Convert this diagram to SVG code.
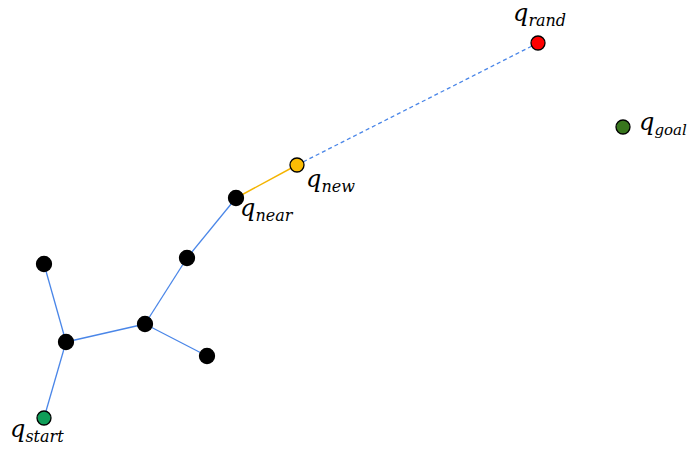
<svg xmlns="http://www.w3.org/2000/svg" width="689" height="450" viewBox="0 0 689 450">
<style>
.e{stroke:#4a86e8;stroke-width:1.3;fill:none}
.n{stroke:#000;stroke-width:1.3}
.q{font-family:"DejaVu Serif","Liberation Serif",serif;font-style:italic;font-size:24px;fill:#000}
.s{font-size:16px}
</style>
<rect width="689" height="450" fill="#fff"/>
<g id="connectors">
<line class="e" x1="44" y1="418" x2="66" y2="342"/>
<line class="e" x1="66" y1="342" x2="44" y2="264"/>
<line class="e" x1="66" y1="342" x2="145" y2="324"/>
<line class="e" x1="145" y1="324" x2="207" y2="356"/>
<line class="e" x1="145" y1="324" x2="187" y2="258"/>
<line class="e" x1="187" y1="258" x2="236" y2="198"/>
<line x1="236" y1="198" x2="297" y2="165" stroke="#f4b400" stroke-width="1.5"/>
<line class="e" x1="297" y1="165" x2="538" y2="43" stroke-dasharray="4,3"/>
</g>
<g id="n1"><circle class="n" cx="44" cy="264" r="7.5" fill="#000"/></g>
<g id="n2"><circle class="n" cx="66" cy="342" r="7.5" fill="#000"/></g>
<g id="n3"><circle class="n" cx="145" cy="324" r="7.5" fill="#000"/></g>
<g id="n4"><circle class="n" cx="207" cy="356" r="7.5" fill="#000"/></g>
<g id="n5"><circle class="n" cx="187" cy="258" r="7.5" fill="#000"/></g>
<g id="qnear"><circle class="n" cx="236" cy="198" r="7.5" fill="#000"/>
<text class="q" x="240" y="216">q<tspan class="s" dy="5">near</tspan></text></g>
<g id="qnew"><circle class="n" cx="297" cy="165" r="7" fill="#fbbc05"/>
<text class="q" x="306" y="187">q<tspan class="s" dy="5">new</tspan></text></g>
<g id="qrand"><circle class="n" cx="538" cy="43" r="7" fill="#ff0000"/>
<text class="q" x="513" y="21">q<tspan class="s" dy="5">rand</tspan></text></g>
<g id="qgoal"><circle class="n" cx="623" cy="127" r="7" fill="#38761d"/>
<text class="q" x="639" y="130">q<tspan class="s" dy="5" style="font-size:15px">goal</tspan></text></g>
<g id="qstart"><circle class="n" cx="44" cy="418" r="7" fill="#0f9d58"/>
<text class="q" x="10" y="437">q<tspan class="s" dy="5">start</tspan></text></g>
</svg>
